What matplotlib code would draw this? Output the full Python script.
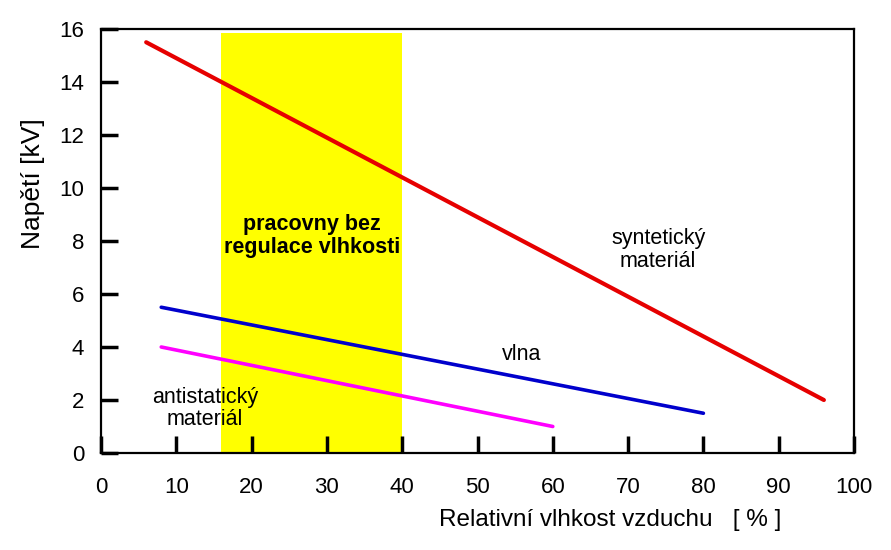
import matplotlib.pyplot as plt

plt.rcParams['font.family'] = ['Liberation Sans', 'DejaVu Sans']

# data
synth_x = [6, 96]
synth_y = [15.5, 2.0]
wool_x = [8, 80]
wool_y = [5.5, 1.5]
anti_x = [8, 60]
anti_y = [4.0, 1.0]
zone_x = [16, 40]
zone_top = 15.85

xticks = list(range(0, 101, 10))
yticks = list(range(0, 17, 2))

fig = plt.figure(figsize=(8.91, 5.5), dpi=100)
ax = fig.add_axes([101 / 891, 97 / 550, 753 / 891, 424 / 550])

# žlutá oblast
ax.fill_between(zone_x, 0, zone_top, color='#ffff00', linewidth=0, zorder=1)

ax.plot(synth_x, synth_y, color='#e60000', lw=3, solid_capstyle='round', zorder=3)
ax.plot(wool_x, wool_y, color='#0000cc', lw=2.6, solid_capstyle='round', zorder=3)
ax.plot(anti_x, anti_y, color='#ff00ff', lw=2.6, solid_capstyle='round', zorder=3)

ax.set_xlim(0, 100)
ax.set_ylim(0, 16)
ax.set_xticks(xticks)
ax.set_yticks(yticks)
ax.tick_params(direction='in', length=12, width=2.5, labelsize=16)
ax.tick_params(axis='x', pad=17)
ax.tick_params(axis='y', pad=12)
for s in ax.spines.values():
    s.set_linewidth(1.6)

ax.text(28.0, 8.2, 'pracovny bez\nregulace vlhkosti', ha='center', va='center',
        fontsize=15.5, fontweight='bold', linespacing=1.1, zorder=4)
ax.text(74.0, 7.65, 'syntetický\nmateriál', ha='center', va='center', fontsize=15.5,
        linespacing=1.1, zorder=4)
ax.text(55.9, 3.7, 'vlna', ha='center', va='center', fontsize=15.5, zorder=4)
ax.text(13.8, 1.68, 'antistatický\nmateriál', ha='center', va='center', fontsize=15.5,
        linespacing=1.1, zorder=4)

ax.set_xlabel('Relativní vlhkost vzduchu   [ % ]', fontsize=17.5)
ax.xaxis.set_label_coords((610 - 101) / 753, -(520 - 453) / 424)
ax.xaxis.label.set_va('center')
ax.set_ylabel('Napětí [kV]', fontsize=19)
ax.yaxis.set_label_coords(-(101 - 33) / 753, (453 - 184) / 424)
ax.yaxis.label.set_va('center')

fig.savefig('out.png', dpi=100)
plt.close(fig)
